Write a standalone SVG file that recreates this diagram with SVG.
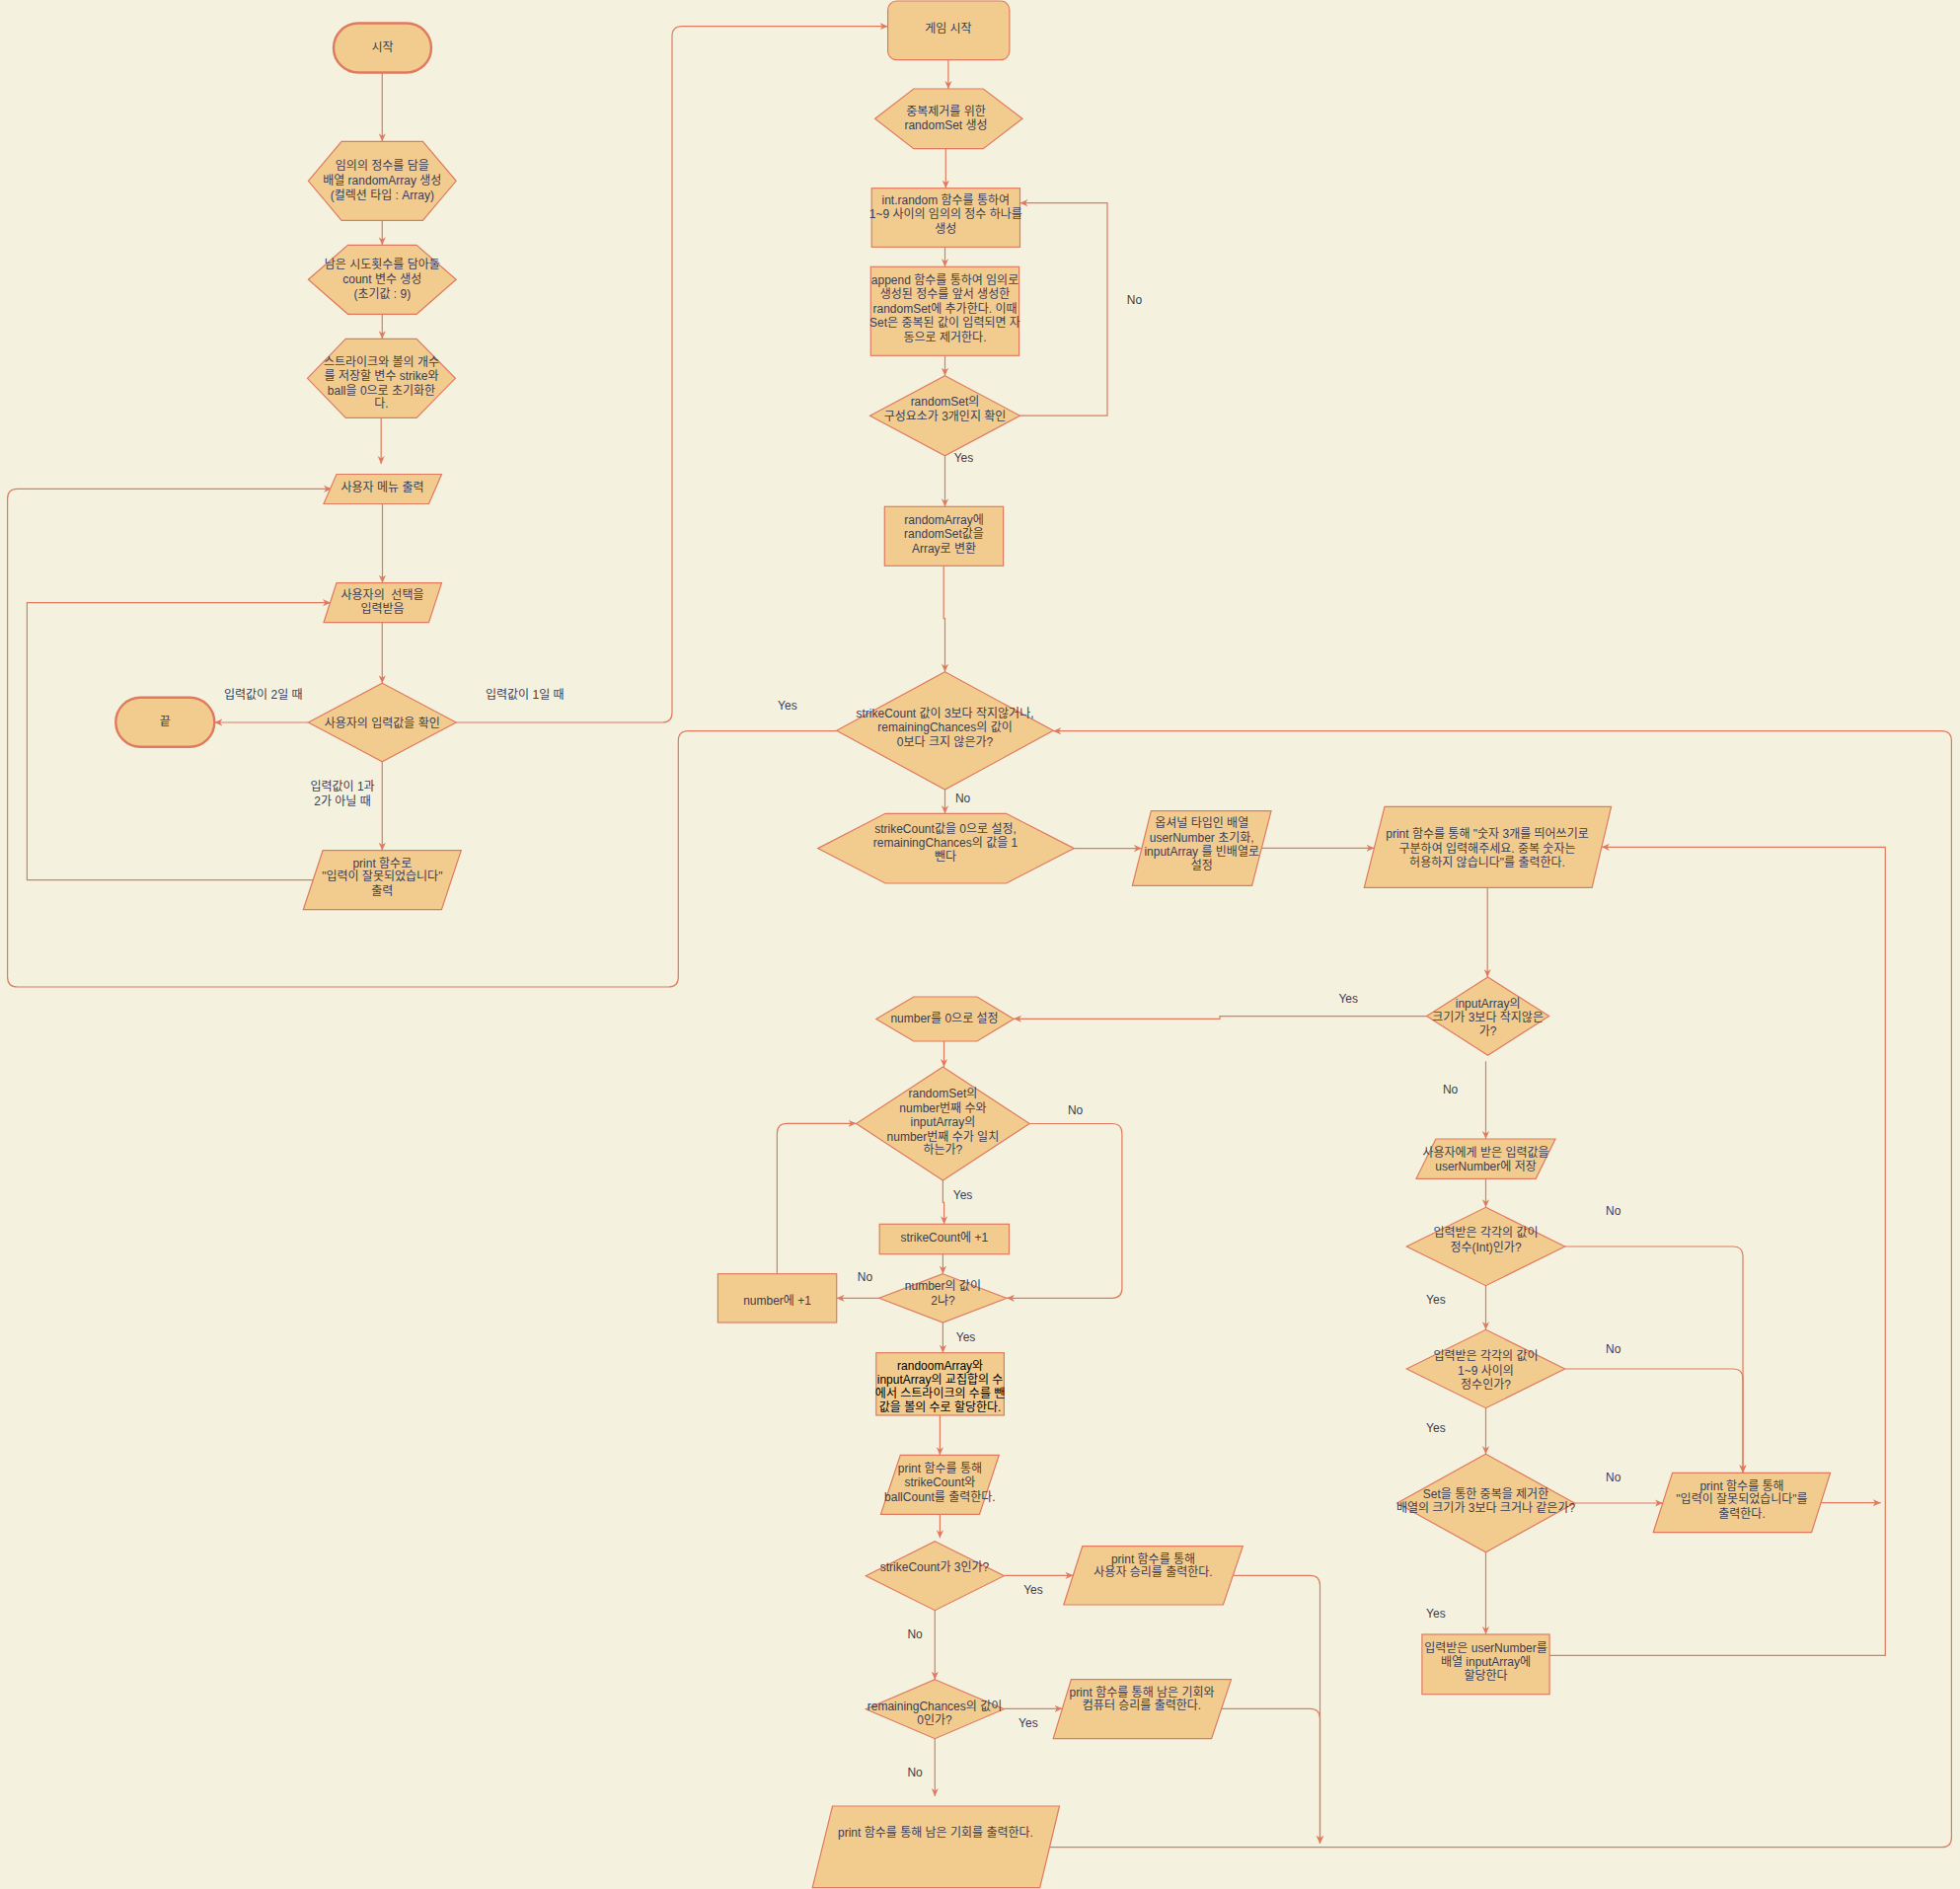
<svg xmlns="http://www.w3.org/2000/svg" width="1986" height="1914" viewBox="0 0 1986 1914">
<style>
.n{fill:#F2CC8F;stroke:#E07A5F;stroke-width:1.2}
.term{fill:#F2CC8F;stroke:#E07A5F;stroke-width:2.4}
.c{fill:none;stroke:#E07A5F;stroke-width:1.2}
.a{marker-end:url(#ah)}
text{font-family:"Liberation Sans","Noto Sans CJK KR",sans-serif;font-size:12px;fill:#393C56;text-anchor:middle}
text.dark{fill:#000000}
</style>
<defs>
<marker id="ah" viewBox="0 0 10 10" refX="10" refY="5" markerWidth="8" markerHeight="8" markerUnits="userSpaceOnUse" orient="auto">
<path d="M0,0.5 L10,5 L0,9.5 L3,5 Z" fill="#E07A5F"/>
</marker>
</defs>
<rect x="0" y="0" width="1986" height="1914" fill="#F4F1DE"/>

<g id="connectors">
<path class="c a" d="M387.3 73.5 V143.3"/>
<path class="c a" d="M387.3 223.3 V248.3"/>
<path class="c a" d="M387.3 318.3 V343.3"/>
<path class="c a" d="M386.2 423.3 V470"/>
<path class="c a" d="M387.5 510.5 V590.7"/>
<path class="c a" d="M387.3 630.7 V692.3"/>
<path class="c a" d="M312.4 732 H217.4"/>
<path class="c a" d="M387.3 771.7 V861.7"/>
<path class="c a" d="M317.2 891.7 H27.4 V610.7 H335"/>
<path class="c a" d="M462.2 732 H671 Q681 732 681 722 V36.7 Q681 26.7 691 26.7 H899.6"/>
<path class="c a" d="M847.7 740.7 H697.3 Q687.3 740.7 687.3 750.7 V990 Q687.3 1000 677.3 1000 H17.6 Q7.6 1000 7.6 990 V505.3 Q7.6 495.3 17.6 495.3 H336"/>
<path class="c a" d="M960.9 60.7 V90"/>
<path class="c a" d="M958.3 150.7 V190.7"/>
<path class="c a" d="M957.5 250.3 V270.3"/>
<path class="c a" d="M957.5 360.3 V380.7"/>
<path class="c a" d="M1033.5 421.2 H1122 V205.7 H1033.5"/>
<path class="c a" d="M957.5 461.7 V513.3"/>
<path class="c a" d="M956.2 573.3 V626.7 H957.5 V680.7"/>
<path class="c a" d="M957.5 800 V824.3"/>
<path class="c a" d="M1088.3 859.6 H1156.9"/>
<path class="c a" d="M1278.3 859.3 H1392.5"/>
<path class="c a" d="M1507.2 899.3 V990"/>
<path class="c a" d="M1445.6 1029.6 H1236 V1032.3 H1027.1"/>
<path class="c a" d="M1505.5 1075.3 V1154"/>
<path class="c a" d="M1505.5 1194.3 V1223.3"/>
<path class="c a" d="M1585.7 1263 H1756 Q1766 1263 1766 1273 V1492.3"/>
<path class="c a" d="M1505.5 1302.7 V1347.3"/>
<path class="c a" d="M1585.7 1387 H1756 Q1766 1387 1766 1397 V1492.3"/>
<path class="c a" d="M1505.5 1426.7 V1473.3"/>
<path class="c a" d="M1595.4 1523 H1684.9"/>
<path class="c a" d="M1845.1 1522.7 H1905.7"/>
<path class="c a" d="M1505.5 1572.7 V1656"/>
<path class="c a" d="M1570.1 1677.3 H1910.3 V858.3 H1622.9"/>
<path class="c a" d="M956.5 1055 V1081"/>
<path class="c a" d="M1043.2 1138.5 H1126.9 Q1136.9 1138.5 1136.9 1148.5 V1305.3 Q1136.9 1315.3 1126.9 1315.3 H1020"/>
<path class="c a" d="M955.4 1196 V1218.3 H956.6 V1240.3"/>
<path class="c a" d="M955.4 1270.7 V1290.7"/>
<path class="c a" d="M890.8 1315.3 H847.7"/>
<path class="c a" d="M787.4 1290.7 V1148.3 Q787.4 1138.3 797.4 1138.3 H867.6"/>
<path class="c a" d="M955.4 1340 V1370.7"/>
<path class="c a" d="M952.4 1434 V1474.3"/>
<path class="c a" d="M952.4 1534.3 V1558.3"/>
<path class="c a" d="M1017.4 1596.3 H1087.4"/>
<path class="c a" d="M947.3 1631.7 V1701.7"/>
<path class="c a" d="M1017.4 1731.3 H1076.5"/>
<path class="c a" d="M947.3 1761.7 V1820"/>
<path class="c a" d="M1249.6 1596.3 H1327.5 Q1337.5 1596.3 1337.5 1606.3 V1868"/>
<path class="c a" d="M1237.7 1731.3 H1327.5 Q1337.5 1731.3 1337.5 1741.3 V1868"/>
<path class="c a" d="M1063.5 1871.7 H1967.4 Q1977.4 1871.7 1977.4 1861.7 V750.7 Q1977.4 740.7 1967.4 740.7 H1067.2"/>
</g>

<g id="labels">
<text x="266.8" y="708.3">입력값이 2일 때</text>
<text x="531.8" y="708.3">입력값이 1일 때</text>
<text x="347" y="800.7">입력값이 1과</text>
<text x="347" y="815.7">2가 아닐 때</text>
<text x="1149.5" y="308.3">No</text>
<text x="976.5" y="468.3">Yes</text>
<text x="797.9" y="719">Yes</text>
<text x="975.6" y="813">No</text>
<text x="1366.2" y="1015.7">Yes</text>
<text x="1469.6" y="1108">No</text>
<text x="1634.7" y="1231.3">No</text>
<text x="1454.9" y="1320.7">Yes</text>
<text x="1634.7" y="1371.3">No</text>
<text x="1454.9" y="1450.7">Yes</text>
<text x="1634.7" y="1500.7">No</text>
<text x="1454.9" y="1639">Yes</text>
<text x="1089.6" y="1129">No</text>
<text x="975.6" y="1214.7">Yes</text>
<text x="876.4" y="1298.3">No</text>
<text x="978.6" y="1359">Yes</text>
<text x="1047" y="1614.7">Yes</text>
<text x="927.1" y="1660">No</text>
<text x="1041.9" y="1749.7">Yes</text>
<text x="927.1" y="1800">No</text>
</g>

<g id="start">
<rect class="term" x="338" y="23.5" width="99" height="50" rx="25"/>
<text x="387.5" y="51.7">시작</text>
</g>
<g id="hex-randomArray">
<polygon class="n" points="312.4,183.3 346.1,143.3 428.4,143.3 462.2,183.3 428.4,223.3 346.1,223.3"/>
<text x="387.3" y="172.3">임의의 정수를 담을</text>
<text x="387.3" y="186.7">배열 randomArray 생성</text>
<text x="387.3" y="201.7">(컬렉션 타입 : Array)</text>
</g>
<g id="hex-count">
<polygon class="n" points="312.4,283.3 352.5,248.3 422.1,248.3 462.2,283.3 422.1,318.3 352.5,318.3"/>
<text x="387.3" y="272.3">남은 시도횟수를 담아둘</text>
<text x="387.3" y="286.7">count 변수 생성</text>
<text x="387.3" y="301.7">(초기값 : 9)</text>
</g>
<g id="hex-strike-ball">
<polygon class="n" points="311.5,383.3 350.3,343.3 422.1,343.3 461.4,383.3 422.1,423.3 350.3,423.3"/>
<text x="386.5" y="370.7">스트라이크와 볼의 개수</text>
<text x="386.5" y="385">를 저장할 변수 strike와</text>
<text x="386.5" y="399.7">ball을 0으로 초기화한</text>
<text x="386.5" y="413.3">다.</text>
</g>
<g id="menu">
<polygon class="n" points="341,480.5 447.5,480.5 434.5,510.5 328,510.5"/>
<text x="387.5" y="497.5">사용자 메뉴 출력</text>
</g>
<g id="input-choice">
<polygon class="n" points="341,590.7 447.5,590.7 434.5,630.7 328,630.7"/>
<text x="387.5" y="607.3">사용자의&#160; 선택을</text>
<text x="387.5" y="620.7">입력받음</text>
</g>
<g id="decision-choice">
<polygon class="n" points="387.3,692.3 462.2,732 387.3,771.7 312.4,732"/>
<text x="387.3" y="737.3">사용자의 입력값을 확인</text>
</g>
<g id="end">
<rect class="term" x="117.3" y="706.7" width="100" height="50" rx="25"/>
<text x="167.3" y="735">끝</text>
</g>
<g id="print-wrong-menu">
<polygon class="n" points="327.1,861.7 467.3,861.7 447.4,921.7 307.3,921.7"/>
<text x="387.3" y="879">print 함수로</text>
<text x="387.3" y="892.3">"입력이 잘못되었습니다"</text>
<text x="387.3" y="907.3">출력</text>
</g>

<g id="game-start">
<rect class="n" x="899.6" y="1" width="123.3" height="59.7" rx="9"/>
<text x="960.9" y="33.3">게임 시작</text>
</g>
<g id="hex-randomSet">
<polygon class="n" points="886.6,120.3 925.8,90 996.3,90 1036,120.3 996.3,150.7 925.8,150.7"/>
<text x="958.5" y="116.7">중복제거를 위한</text>
<text x="958.5" y="131.3">randomSet 생성</text>
</g>
<g id="int-random">
<rect class="n" x="883.2" y="190.7" width="150.3" height="59.6"/>
<text x="958.3" y="207.3">int.random 함수를 통하여</text>
<text x="958.3" y="221.3">1~9 사이의 임의의 정수 하나를</text>
<text x="958.3" y="236.3">생성</text>
</g>
<g id="append">
<rect class="n" x="882.3" y="270.3" width="150.3" height="90"/>
<text x="957.5" y="288">append 함수를 통하여 임의로</text>
<text x="957.5" y="301.7">생성된 정수를 앞서 생성한</text>
<text x="957.5" y="316.7">randomSet에 추가한다. 이때</text>
<text x="957.5" y="330.7">Set은 중복된 값이 입력되면 자</text>
<text x="957.5" y="345.7">동으로 제거한다.</text>
</g>
<g id="decision-set-size">
<polygon class="n" points="957.5,380.7 1033.5,421.2 957.5,461.7 881.5,421.2"/>
<text x="957.5" y="411.3">randomSet의</text>
<text x="957.5" y="426.3">구성요소가 3개인지 확인</text>
</g>
<g id="to-array">
<rect class="n" x="896.3" y="513.3" width="120.3" height="60"/>
<text x="956.5" y="530.7">randomArray에</text>
<text x="956.5" y="545">randomSet값을</text>
<text x="956.5" y="560">Array로 변환</text>
</g>
<g id="decision-game">
<polygon class="n" points="957.5,680.7 1067.2,740.3 957.5,800 847.7,740.3"/>
<text x="957.5" y="726.7">strikeCount 값이 3보다 작지않거나,</text>
<text x="957.5" y="741">remainingChances의 값이</text>
<text x="957.5" y="755.7">0보다 크지 않은가?</text>
</g>
<g id="hex-reset">
<polygon class="n" points="828.7,859.6 897.1,824.3 1019.5,824.3 1088.3,859.6 1019.5,895 897.1,895"/>
<text x="958" y="844">strikeCount값을 0으로 설정,</text>
<text x="958" y="858">remainingChances의 값을 1</text>
<text x="958" y="872.3">뺀다</text>
</g>
<g id="init-optional">
<polygon class="n" points="1166.4,821.7 1288,821.7 1268.6,897.3 1147.4,897.3"/>
<text x="1217.7" y="838">옵셔널 타입인 배열</text>
<text x="1217.7" y="852.7">userNumber 초기화,</text>
<text x="1217.7" y="867.3">inputArray 를 빈배열로</text>
<text x="1217.7" y="881.3">설정</text>
</g>
<g id="print-prompt">
<polygon class="n" points="1403,817.3 1632.6,817.3 1613.1,899.3 1382.3,899.3"/>
<text x="1507" y="849">print 함수를 통해 "숫자 3개를 띄어쓰기로</text>
<text x="1507" y="864">구분하여 입력해주세요. 중복 숫자는</text>
<text x="1507" y="878">허용하지 않습니다"를 출력한다.</text>
</g>
<g id="decision-input-size">
<polygon class="n" points="1507.6,990 1569.7,1029.6 1507.6,1069.3 1445.6,1029.6"/>
<text x="1507.6" y="1020.7">inputArray의</text>
<text x="1507.6" y="1034.7">크기가 3보다 작지않은</text>
<text x="1507.6" y="1049.3">가?</text>
</g>
<g id="store-userNumber">
<polygon class="n" points="1454.9,1154 1576,1154 1556.2,1194.3 1435,1194.3"/>
<text x="1505.5" y="1171.7">사용자에게 받은 입력값을</text>
<text x="1505.5" y="1185.7">userNumber에 저장</text>
</g>
<g id="decision-int">
<polygon class="n" points="1505.5,1223.3 1585.7,1263 1505.5,1302.7 1425.3,1263"/>
<text x="1505.5" y="1253.3">입력받은 각각의 값이</text>
<text x="1505.5" y="1268.3">정수(Int)인가?</text>
</g>
<g id="decision-range">
<polygon class="n" points="1505.5,1347.3 1585.7,1387 1505.5,1426.7 1425.3,1387"/>
<text x="1505.5" y="1378.3">입력받은 각각의 값이</text>
<text x="1505.5" y="1393.3">1~9 사이의</text>
<text x="1505.5" y="1407.3">정수인가?</text>
</g>
<g id="decision-dup">
<polygon class="n" points="1505.5,1473.3 1595.4,1523 1505.5,1572.7 1415.6,1523"/>
<text x="1505.5" y="1518">Set을 통한 중복을 제거한</text>
<text x="1505.5" y="1532.3">배열의 크기가 3보다 크거나 같은가?</text>
</g>
<g id="print-wrong-input">
<polygon class="n" points="1694.6,1492.3 1854.6,1492.3 1835.6,1552.7 1675.2,1552.7"/>
<text x="1765" y="1509.7">print 함수를 통해</text>
<text x="1765" y="1523.3">"입력이 잘못되었습니다"를</text>
<text x="1765" y="1538.3">출력한다.</text>
</g>
<g id="assign-inputArray">
<rect class="n" x="1440.9" y="1656" width="129.2" height="60.7"/>
<text x="1505.5" y="1674">입력받은 userNumber를</text>
<text x="1505.5" y="1688">배열 inputArray에</text>
<text x="1505.5" y="1702.3">할당한다</text>
</g>
<g id="hex-number">
<polygon class="n" points="887.8,1032.5 925.8,1010 990,1010 1027.1,1032.5 990,1055 925.8,1055"/>
<text x="957" y="1035.7">number를 0으로 설정</text>
</g>
<g id="decision-match">
<polygon class="n" points="955.4,1081 1043.2,1138.5 955.4,1196 867.6,1138.5"/>
<text x="955.4" y="1111.7">randomSet의</text>
<text x="955.4" y="1126.7">number번째 수와</text>
<text x="955.4" y="1140.7">inputArray의</text>
<text x="955.4" y="1155.7">number번째 수가 일치</text>
<text x="955.4" y="1169">하는가?</text>
</g>
<g id="strike-plus">
<rect class="n" x="891.2" y="1240.3" width="131.3" height="30.4"/>
<text x="956.8" y="1258">strikeCount에 +1</text>
</g>
<g id="decision-number">
<polygon class="n" points="955.4,1290.7 1020,1315.3 955.4,1340 890.8,1315.3"/>
<text x="955.4" y="1307.3">number의 값이</text>
<text x="955.4" y="1321.7">2냐?</text>
</g>
<g id="number-plus">
<rect class="n" x="727.4" y="1290.7" width="120.3" height="49.3"/>
<text x="787.5" y="1321.7">number에 +1</text>
</g>
<g id="ball-assign">
<rect class="n" x="887.8" y="1370.7" width="129.6" height="63.3"/>
<text class="dark" x="952.6" y="1388">randoomArray와</text>
<text class="dark" x="952.6" y="1401.7">inputArray의 교집합의 수</text>
<text class="dark" x="952.6" y="1416.3">에서 스트라이크의 수를 뺀</text>
<text class="dark" x="952.6" y="1430">값을 볼의 수로 할당한다.</text>
</g>
<g id="print-count">
<polygon class="n" points="912.3,1474.3 1012.3,1474.3 992.5,1534.3 892.5,1534.3"/>
<text x="952.4" y="1491.7">print 함수를 통해</text>
<text x="952.4" y="1505.7">strikeCount와</text>
<text x="952.4" y="1520.7">ballCount를 출력한다.</text>
</g>
<g id="decision-strike3">
<polygon class="n" points="947.3,1561.7 1017.4,1596.7 947.3,1631.7 877.3,1596.7"/>
<text x="947" y="1592.3">strikeCount가 3인가?</text>
</g>
<g id="print-user-win">
<polygon class="n" points="1096.8,1566.7 1259.3,1566.7 1239.4,1626 1077.8,1626"/>
<text x="1168.5" y="1584">print 함수를 통해</text>
<text x="1168.5" y="1597.3">사용자 승리를 출력한다.</text>
</g>
<g id="decision-remaining">
<polygon class="n" points="947.3,1701.7 1017.4,1731.7 947.3,1761.7 877.3,1731.7"/>
<text x="947" y="1732.7">remainingChances의 값이</text>
<text x="947" y="1747.3">0인가?</text>
</g>
<g id="print-computer-win">
<polygon class="n" points="1085.4,1701.7 1247.5,1701.7 1227.6,1761.7 1067.2,1761.7"/>
<text x="1157" y="1719">print 함수를 통해 남은 기회와</text>
<text x="1157" y="1732.3">컴퓨터 승리를 출력한다.</text>
</g>
<g id="print-remaining">
<polygon class="n" points="843.5,1830 1073.5,1830 1053.7,1912.7 823.2,1912.7"/>
<text x="948" y="1861.3">print 함수를 통해 남은 기회를 출력한다.</text>
</g>
</svg>
